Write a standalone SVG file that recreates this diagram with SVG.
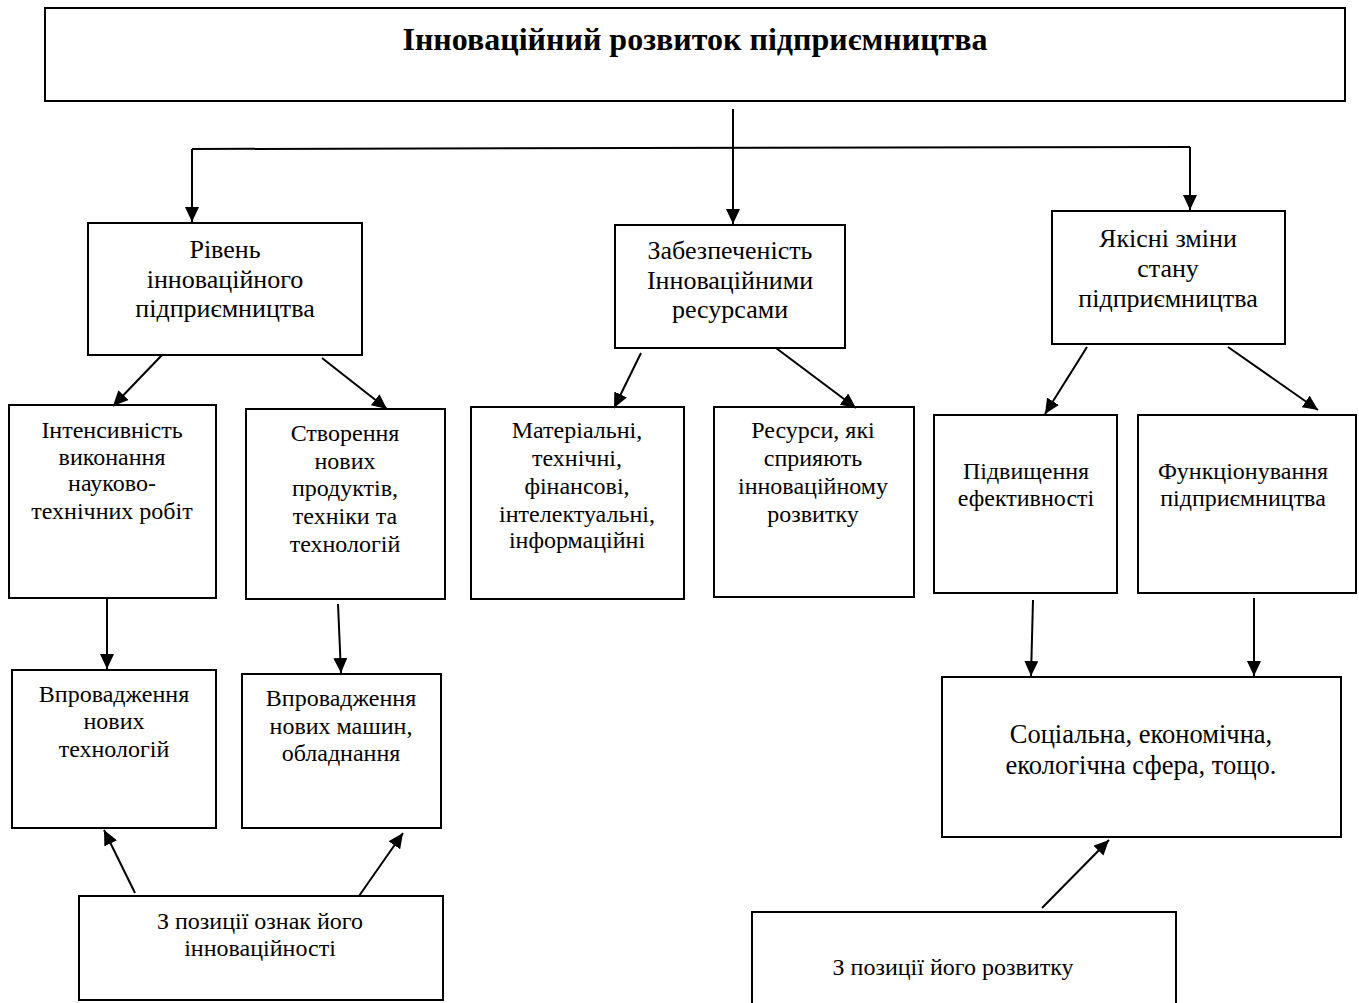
<svg xmlns="http://www.w3.org/2000/svg" width="1359" height="1003" viewBox="0 0 1359 1003">
  <style>
    .box { fill: #fff; stroke: #000; stroke-width: 2; }
    .t { font-family: "Liberation Serif", "Times New Roman", serif; fill: #000; text-anchor: middle; }
    .l2 { font-size: 26px; }
    .l3 { font-size: 24px; }
    .l4 { font-size: 26.5px; }
    .title { font-size: 32px; font-weight: bold; }
    .conn line, .conn polyline { stroke: #000; stroke-width: 2; fill: none; }
  </style>
  <defs>
    <marker id="arr" viewBox="0 0 15 14" refX="15" refY="7" markerWidth="15" markerHeight="14" markerUnits="userSpaceOnUse" orient="auto">
      <path d="M0,0 L15,7 L0,14 Z" fill="#000"/>
    </marker>
  </defs>
  <rect width="1359" height="1003" fill="#fff"/>

  <g id="root">
    <rect class="box" x="45" y="8" width="1300" height="93"/>
    <text class="t title" x="695" y="50">Інноваційний розвиток підприємництва</text>
  </g>

  <g id="level">
    <rect class="box" x="88" y="223" width="274" height="132"/>
    <text class="t l2" x="225" y="258">Рівень</text>
    <text class="t l2" x="225" y="288">інноваційного</text>
    <text class="t l2" x="225" y="317">підприємництва</text>
  </g>

  <g id="resources">
    <rect class="box" x="615" y="225" width="230" height="123"/>
    <text class="t l2" x="730" y="259">Забезпеченість</text>
    <text class="t l2" x="730" y="289">Інноваційними</text>
    <text class="t l2" x="730" y="318">ресурсами</text>
  </g>

  <g id="changes">
    <rect class="box" x="1052" y="211" width="233" height="133"/>
    <text class="t l2" x="1168" y="247">Якісні зміни</text>
    <text class="t l2" x="1168" y="277">стану</text>
    <text class="t l2" x="1168" y="307">підприємництва</text>
  </g>

  <g id="intensity">
    <rect class="box" x="9" y="405" width="207" height="193"/>
    <text class="t l3" x="112" y="438">Інтенсивність</text>
    <text class="t l3" x="112" y="465">виконання</text>
    <text class="t l3" x="112" y="491">науково-</text>
    <text class="t l3" x="112" y="519">технічних робіт</text>
  </g>

  <g id="creation">
    <rect class="box" x="246" y="409" width="199" height="190"/>
    <text class="t l3" x="345" y="441">Створення</text>
    <text class="t l3" x="345" y="469">нових</text>
    <text class="t l3" x="345" y="496">продуктів,</text>
    <text class="t l3" x="345" y="524">техніки та</text>
    <text class="t l3" x="345" y="552">технологій</text>
  </g>

  <g id="material">
    <rect class="box" x="471" y="407" width="213" height="192"/>
    <text class="t l3" x="577" y="438">Матеріальні,</text>
    <text class="t l3" x="577" y="466">технічні,</text>
    <text class="t l3" x="577" y="494">фінансові,</text>
    <text class="t l3" x="577" y="522">інтелектуальні,</text>
    <text class="t l3" x="577" y="548">інформаційні</text>
  </g>

  <g id="supporting">
    <rect class="box" x="714" y="407" width="200" height="190"/>
    <text class="t l3" x="813" y="438">Ресурси, які</text>
    <text class="t l3" x="813" y="466">сприяють</text>
    <text class="t l3" x="813" y="494">інноваційному</text>
    <text class="t l3" x="813" y="522">розвитку</text>
  </g>

  <g id="efficiency">
    <rect class="box" x="934" y="415" width="183" height="178"/>
    <text class="t l3" x="1026" y="479">Підвищення</text>
    <text class="t l3" x="1026" y="506">ефективності</text>
  </g>

  <g id="functioning">
    <rect class="box" x="1138" y="415" width="218" height="178"/>
    <text class="t l3" x="1243" y="479">Функціонування</text>
    <text class="t l3" x="1243" y="506">підприємництва</text>
  </g>

  <g id="new-tech">
    <rect class="box" x="12" y="670" width="204" height="158"/>
    <text class="t l3" x="114" y="702">Впровадження</text>
    <text class="t l3" x="114" y="729">нових</text>
    <text class="t l3" x="114" y="757">технологій</text>
  </g>

  <g id="new-machines">
    <rect class="box" x="242" y="674" width="199" height="154"/>
    <text class="t l3" x="341" y="706">Впровадження</text>
    <text class="t l3" x="341" y="734">нових машин,</text>
    <text class="t l3" x="341" y="761">обладнання</text>
  </g>

  <g id="spheres">
    <rect class="box" x="942" y="677" width="399" height="160"/>
    <text class="t l4" x="1141" y="743">Соціальна, економічна,</text>
    <text class="t l4" x="1141" y="774">екологічна сфера, тощо.</text>
  </g>

  <g id="innovativeness">
    <rect class="box" x="79" y="896" width="364" height="104"/>
    <text class="t l3" x="260" y="929">З позиції ознак його</text>
    <text class="t l3" x="260" y="956">інноваційності</text>
  </g>

  <g id="development">
    <rect class="box" x="752" y="912" width="424" height="100"/>
    <text class="t l3" x="953" y="975">З позиції його розвитку</text>
  </g>

  <g class="conn">
    <line x1="733" y1="109" x2="733" y2="224" marker-end="url(#arr)"/>
    <polyline points="192,149 1190,147"/>
    <line x1="192" y1="149" x2="192" y2="222" marker-end="url(#arr)"/>
    <line x1="1190" y1="147" x2="1190" y2="210" marker-end="url(#arr)"/>
    <line x1="162" y1="355" x2="113" y2="406" marker-end="url(#arr)"/>
    <line x1="322" y1="358" x2="387" y2="409" marker-end="url(#arr)"/>
    <line x1="641" y1="353" x2="614" y2="408" marker-end="url(#arr)"/>
    <line x1="776" y1="348" x2="856" y2="408" marker-end="url(#arr)"/>
    <line x1="1087" y1="347" x2="1045" y2="414" marker-end="url(#arr)"/>
    <line x1="1228" y1="347" x2="1318" y2="410" marker-end="url(#arr)"/>
    <line x1="107" y1="598" x2="107" y2="669" marker-end="url(#arr)"/>
    <line x1="338" y1="604" x2="341" y2="673" marker-end="url(#arr)"/>
    <line x1="1033" y1="600" x2="1031" y2="676" marker-end="url(#arr)"/>
    <line x1="1254" y1="598" x2="1254" y2="676" marker-end="url(#arr)"/>
    <line x1="135" y1="893" x2="104" y2="830" marker-end="url(#arr)"/>
    <line x1="359" y1="896" x2="403" y2="833" marker-end="url(#arr)"/>
    <line x1="1042" y1="908" x2="1109" y2="840" marker-end="url(#arr)"/>
  </g>
</svg>
